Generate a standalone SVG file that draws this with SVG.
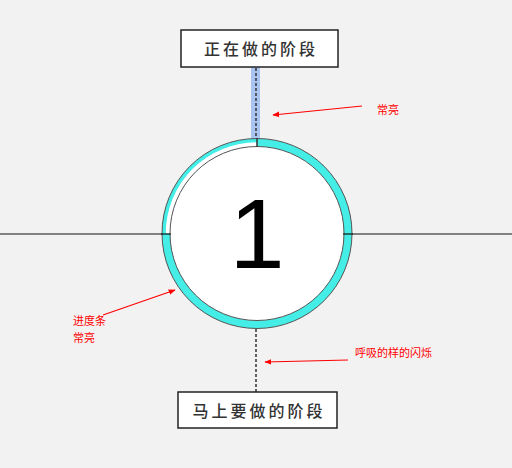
<svg xmlns="http://www.w3.org/2000/svg" width="512" height="468" viewBox="0 0 512 468">
<style>
.box{fill:#fff;stroke:#222;stroke-width:1.5}
.lbl{font-family:"Noto Sans CJK SC","Liberation Sans",sans-serif;font-size:16px;font-weight:500;fill:#333;letter-spacing:3px;text-anchor:middle}
.note{font-family:"Noto Sans CJK SC",sans-serif;font-size:11px;fill:#f00}
.ann{stroke:#f00;stroke-width:1.2;fill:none}
.dash{stroke:#333;stroke-width:1.5;stroke-dasharray:3 2;fill:none}
</style>
<defs>
<marker id="ah" viewBox="0 0 10 10" refX="9" refY="5" markerWidth="7" markerHeight="7" orient="auto" markerUnits="userSpaceOnUse"><path d="M0,1 L10,5 L0,9 z" fill="#f00"/></marker>
</defs>
<rect width="512" height="468" fill="#f2f2f2"/>
<g id="connectors">
<line x1="0" y1="234" x2="170" y2="234" stroke="#111" stroke-width="1.2"/>
<line x1="344" y1="234" x2="512" y2="234" stroke="#111" stroke-width="1.2"/>
<rect x="251" y="67" width="9" height="76" fill="#a9c4f0"/>
<line class="dash" x1="256" y1="68" x2="256" y2="143"/>
<line class="dash" x1="256" y1="329" x2="256" y2="392"/>
</g>
<g id="progress">
<circle cx="257" cy="233.5" r="91" fill="#fff" stroke="#44eee6" stroke-width="8"/>
<path d="M168,233.5 A89,89 0 0 1 257,144.5" fill="none" stroke="#fff" stroke-width="4.5"/>
<circle cx="257" cy="233.5" r="95" fill="none" stroke="#555" stroke-width="1"/>
<circle cx="257" cy="233.5" r="87" fill="none" stroke="#555" stroke-width="1"/>
<line x1="161" y1="234" x2="171" y2="234" stroke="#111" stroke-width="1.2"/>
<line x1="343" y1="234" x2="353" y2="234" stroke="#111" stroke-width="1.2"/>
<line x1="257" y1="138" x2="257" y2="147" stroke="#333" stroke-width="1.5"/>
<text x="257" y="268" font-family="Liberation Sans,sans-serif" font-size="99" text-anchor="middle" fill="#000">1</text>
</g>
<g id="current">
<rect class="box" x="181" y="30" width="157" height="37"/>
<text class="lbl" x="261" y="55">正在做的阶段</text>
</g>
<g id="next">
<rect class="box" x="178" y="392" width="159" height="36"/>
<text class="lbl" x="259" y="417">马上要做的阶段</text>
</g>
<g id="annotations">
<line class="ann" x1="362" y1="106" x2="273" y2="115" marker-end="url(#ah)"/>
<text class="note" x="377" y="114">常亮</text>
<line class="ann" x1="103" y1="315" x2="175" y2="290" marker-end="url(#ah)"/>
<text class="note" x="73" y="325">进度条</text>
<text class="note" x="73" y="342">常亮</text>
<line class="ann" x1="348" y1="360" x2="265" y2="362" marker-end="url(#ah)"/>
<text class="note" x="355" y="357">呼吸的样的闪烁</text>
</g>
</svg>
